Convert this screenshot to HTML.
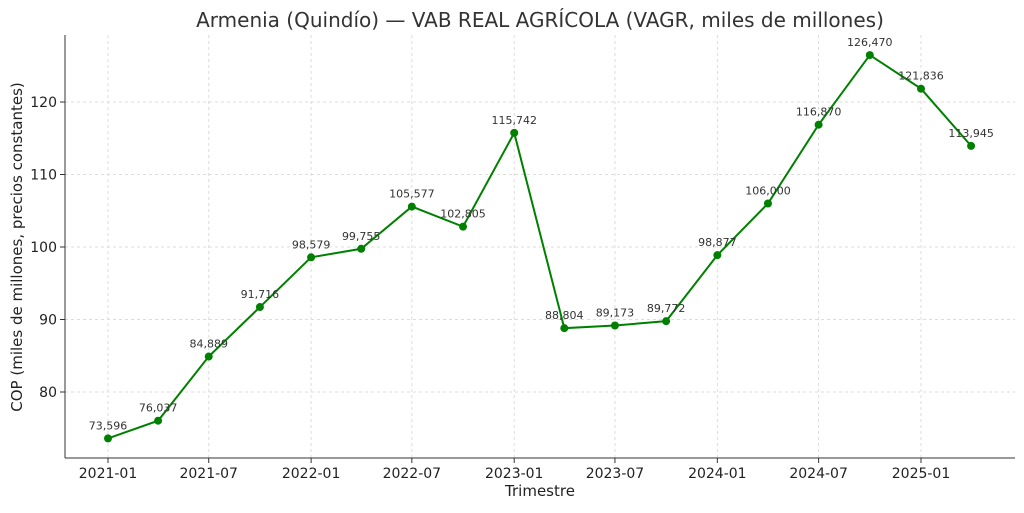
<!DOCTYPE html>
<html><head><meta charset="utf-8"><style>
body{margin:0;background:#fff;font-family:"Liberation Sans","DejaVu Sans",sans-serif}
svg text{font-family:"DejaVu Sans","Liberation Sans",sans-serif}
</style></head><body>
<svg id="chart" width="1024" height="508" xmlns="http://www.w3.org/2000/svg">
<text x="540" y="27" text-anchor="middle" font-size="20" fill="#333">Armenia (Quindío) — VAB REAL AGRÍCOLA (VAGR, miles de millones)</text>
<g id="grid"></g>
<g id="axes"></g>
<g id="series"></g>
<text x="540" y="496" text-anchor="middle" font-size="15" fill="#222">Trimestre</text>
<text transform="translate(22,247) rotate(-90)" text-anchor="middle" font-size="15" fill="#222">COP (miles de millones, precios constantes)</text>
</svg>
<script>
const dates=["2021-01-01","2021-04-01","2021-07-01","2021-10-01","2022-01-01","2022-04-01","2022-07-01","2022-10-01","2023-01-01","2023-04-01","2023-07-01","2023-10-01","2024-01-01","2024-04-01","2024-07-01","2024-10-01","2025-01-01","2025-04-01"];
const values=[73.596,76.037,84.889,91.716,98.579,99.755,105.577,102.805,115.742,88.804,89.173,89.772,98.877,106.000,116.870,126.470,121.836,113.945];
const labels=["73,596","76,037","84,889","91,716","98,579","99,755","105,577","102,805","115,742","88,804","89,173","89,772","98,877","106,000","116,870","126,470","121,836","113,945"];
const xTicks=["2021-01","2021-07","2022-01","2022-07","2023-01","2023-07","2024-01","2024-07","2025-01"];
const yTicks=[80,90,100,110,120];
const NS="http://www.w3.org/2000/svg";
const t0=Date.parse("2021-01-01"),t1=Date.parse("2025-01-01");
const x=d=>108+(Date.parse(d)-t0)/(t1-t0)*813;
const y=v=>392-(v-80)*7.25;
const L=65,R=1015,T=35,B=458;
function mk(tag,attrs,parent){const e=document.createElementNS(NS,tag);for(const k in attrs)e.setAttribute(k,attrs[k]);parent.appendChild(e);return e;}
const grid=document.getElementById('grid'),axes=document.getElementById('axes'),series=document.getElementById('series');
xTicks.forEach(t=>{const xx=x(t+"-01");
 const g=mk('line',{x1:xx,x2:xx,y1:T,y2:B,stroke:'#ddd','stroke-dasharray':'3,3'},grid);
 
 
 const tk=mk('line',{x1:xx,x2:xx,y1:B,y2:B+5,stroke:'#333'},axes);
 
 
 const tx=mk('text',{x:xx,y:B+20,'text-anchor':'middle','font-size':14,fill:'#222'},axes);tx.textContent=t;
 
 
});
yTicks.forEach(v=>{const yy=y(v);
 const g=mk('line',{x1:L,x2:R,y1:yy,y2:yy,stroke:'#ddd','stroke-dasharray':'3,3'},grid);
 
 
 const tk=mk('line',{x1:L-5,x2:L,y1:yy,y2:yy,stroke:'#333'},axes);
 
 
 const tx=mk('text',{x:L-8,y:yy+5,'text-anchor':'end','font-size':14,fill:'#222'},axes);tx.textContent=v;
 
 
});
const ax1=mk('line',{x1:L,x2:L,y1:T,y2:B,stroke:'#333'},axes);


const ax2=mk('line',{x1:L,x2:R,y1:B,y2:B,stroke:'#333'},axes);


const pts=dates.map((d,i)=>x(d)+','+y(values[i])).join(' ');
const pl=mk('polyline',{points:pts,fill:'none',stroke:'#008000','stroke-width':2},series);


dates.forEach((d,i)=>{
 const c=mk('circle',{cx:x(d),cy:y(values[i]),r:4,fill:'#008000'},series);
 
 
 const tx=mk('text',{x:x(d),y:y(values[i])-9,'text-anchor':'middle','font-size':11,fill:'#333'},series);tx.textContent=labels[i];
 
 
});
</script>
</body></html>
